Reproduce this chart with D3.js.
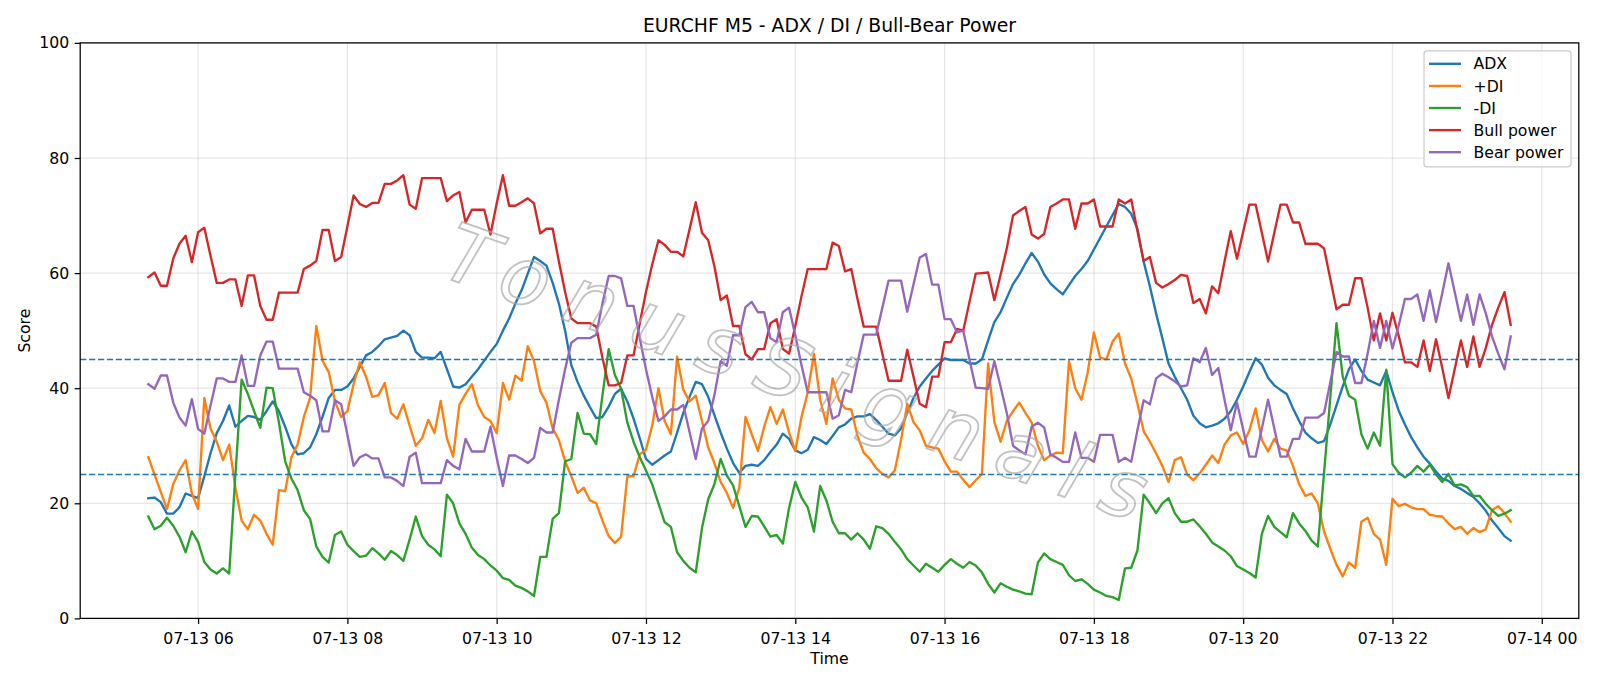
<!DOCTYPE html>
<html><head><meta charset="utf-8">
<script src="https://cdn.jsdelivr.net/npm/d3@7"></script>
<style>body{margin:0;background:#fff;} svg text{font-family:"DejaVu Sans",sans-serif;}</style>
</head><body><svg id="chart" width="1600" height="686"></svg>
<script>
// ---------- data ----------
const startTime = "2025-07-13T05:20:00Z";
const stepMinutes = 5;
const seriesNames = ["ADX", "+DI", "-DI", "Bull power", "Bear power"];
const seriesColors = ["#1f77b4", "#ff7f0e", "#2ca02c", "#d62728", "#9467bd"];
const yTicks = [0, 20, 40, 60, 80, 100];
const refLevels = [45, 25];
const titleText = "EURCHF M5 - ADX / DI / Bull-Bear Power";
const xLabel = "Time";
const yLabel = "Score";
const watermarkText = "TonusSignals";

const adx = [20.9,21.0,20.2,18.2,18.2,19.3,21.7,21.3,20.9,24.7,28.7,32.2,34.3,37.0,33.3,34.3,35.2,35.0,34.5,36.0,37.7,36.0,33.3,30.3,28.5,28.7,29.7,
32.0,35.0,38.3,39.7,39.7,40.3,41.7,43.7,45.7,46.3,47.3,48.5,48.8,49.1,50.0,49.2,46.3,45.3,45.3,45.2,46.3,43.3,40.3,40.1,40.7,42.0,43.3,44.8,46.3,
47.7,50.0,52.1,54.7,57.0,59.9,62.8,62.1,61.3,58.3,54.7,50.0,44.0,41.1,38.7,36.7,34.8,35.0,36.8,39.0,39.9,37.7,34.7,31.3,27.7,26.7,27.5,28.3,
29.0,32.3,35.7,38.5,41.1,40.7,38.5,35.3,32.3,29.5,27.0,25.3,26.5,26.7,26.5,27.5,28.9,30.2,32.1,31.2,29.2,28.7,29.3,31.5,31.0,30.3,31.7,33.2,
33.7,34.7,35.1,35.1,35.5,34.5,33.3,32.1,31.8,33.0,35.7,38.3,40.3,41.7,43.0,44.1,45.2,44.9,44.9,44.9,44.3,44.3,45.0,48.3,51.5,53.2,55.7,58.1,
59.7,61.7,63.5,62.0,59.8,58.2,57.2,56.3,57.9,59.5,60.7,62.1,64.1,66.1,68.1,70.1,72.0,71.5,70.3,67.7,62.0,57.7,53.0,48.7,44.3,42.0,40.0,38.0,
35.2,33.9,33.2,33.5,33.9,34.7,36.0,38.0,40.3,42.8,45.2,44.1,41.8,40.5,39.7,39.0,36.5,34.3,32.3,31.3,30.5,30.8,33.7,37.0,40.3,43.3,45.0,43.0,
41.5,41.0,40.5,43.0,39.3,36.1,33.7,31.5,29.7,28.1,26.9,25.5,24.3,23.9,23.0,22.5,21.8,21.1,20.0,18.7,17.0,15.7,14.3,13.5];

const plusDI = [28.0,25.0,22.0,19.0,23.3,25.7,27.5,21.7,19.0,38.3,33.0,30.7,27.5,30.2,22.7,17.0,15.5,18.0,17.0,14.7,12.8,22.3,22.1,28.0,30.2,35.0,38.3,
50.8,44.8,42.8,37.7,35.0,36.0,40.7,44.5,42.0,38.5,38.8,40.9,35.7,34.7,37.2,33.5,30.0,31.3,34.5,32.2,37.8,31.3,28.1,37.1,39.0,40.7,37.0,35.0,34.3,
32.2,40.9,38.0,42.2,41.3,47.3,44.7,39.5,37.5,33.0,31.0,27.3,24.7,21.8,22.7,20.5,20.0,17.0,14.3,13.1,14.2,24.7,24.7,28.5,29.3,33.5,40.0,34.3,
32.0,45.5,39.7,37.7,38.7,34.3,29.7,27.0,23.7,21.8,19.2,22.7,35.0,32.0,29.1,33.3,36.7,33.8,36.3,32.3,29.1,35.0,39.3,46.0,38.0,33.8,41.7,38.0,
36.5,36.3,31.7,28.8,27.7,26.1,25.1,24.5,25.7,31.0,37.3,34.1,32.7,30.0,29.7,29.5,27.3,25.5,25.5,24.1,22.8,24.0,25.1,44.3,34.1,30.7,34.3,36.0,
37.5,35.7,34.0,30.0,27.5,28.3,28.8,28.7,44.7,40.0,38.0,42.7,49.7,45.3,45.0,48.1,49.5,44.3,41.7,37.3,32.5,30.7,28.7,26.5,23.7,27.5,28.0,25.0,
24.0,25.2,26.7,28.3,27.0,30.2,31.8,32.3,30.3,32.7,36.5,31.0,29.0,31.2,29.5,29.2,26.5,23.3,21.3,21.7,20.0,15.1,12.1,9.3,7.3,9.7,8.8,16.8,
17.5,14.7,13.7,9.3,20.8,19.5,19.9,19.3,19.0,19.0,18.0,17.8,17.7,16.5,15.5,15.9,14.7,15.7,15.0,15.5,18.8,19.5,18.3,16.8];

const minusDI = [17.7,15.5,16.1,17.5,16.1,14.2,11.5,15.1,13.3,9.8,8.5,7.8,8.7,7.8,25.0,41.5,39.0,36.0,33.1,40.1,40.0,34.0,27.3,24.3,22.3,18.8,17.3,
12.5,10.7,9.7,14.5,15.1,12.8,11.7,10.7,10.9,12.2,11.3,10.2,11.7,11.0,10.0,13.7,17.7,14.3,12.8,12.0,10.8,21.5,20.0,16.5,14.7,12.3,11.0,10.3,9.2,
8.3,7.0,6.7,5.7,5.3,4.7,3.9,10.7,10.7,17.3,18.3,27.3,27.7,35.7,32.1,32.0,30.3,38.7,46.8,42.3,39.9,34.0,30.7,28.0,25.7,23.3,20.0,16.7,
15.9,11.5,10.0,8.8,8.0,15.7,20.7,23.3,27.7,24.8,23.1,19.5,15.9,17.8,17.7,16.0,14.2,14.5,13.0,19.2,23.7,21.0,19.3,15.1,23.0,20.5,16.8,14.8,
14.8,13.7,14.8,13.7,12.1,16.0,15.7,14.7,13.3,12.0,10.3,9.2,8.1,9.5,8.8,8.1,9.3,10.3,9.5,8.8,9.8,9.2,8.0,6.0,4.5,6.1,5.5,5.0,
4.7,4.3,4.2,9.7,11.3,10.3,9.8,9.3,7.5,6.5,6.8,6.0,5.0,4.5,3.9,3.7,3.2,8.7,8.8,11.8,21.5,20.0,18.3,20.0,20.9,18.3,16.8,16.8,
17.2,16.0,14.7,13.2,12.5,11.8,10.8,9.1,8.5,7.9,7.1,14.7,17.8,15.9,15.0,14.1,18.3,16.5,15.2,13.5,12.5,25.3,38.3,51.3,42.0,38.7,38.0,32.0,
29.5,32.3,30.0,43.2,26.8,25.3,24.5,25.3,26.5,25.5,26.7,25.0,23.7,25.1,23.1,23.3,22.8,21.3,21.3,19.9,18.8,17.8,18.2,18.8];

const bullPower = [59.3,60.1,57.8,57.8,62.5,65.1,66.5,61.9,67.1,67.9,63.0,58.3,58.3,58.9,58.9,54.3,59.6,59.6,54.3,51.9,51.9,56.6,56.6,56.6,56.6,60.7,61.3,
62.1,67.5,67.5,62.1,62.8,68.1,73.5,72.0,71.5,72.2,72.2,75.5,75.5,76.1,77.0,71.9,71.2,76.5,76.5,76.5,76.5,72.5,73.5,74.1,68.8,71.0,71.0,71.0,66.7,
72.1,77.0,71.7,71.7,72.3,73.0,72.1,66.9,67.7,67.7,62.0,56.7,52.1,51.3,51.3,51.3,50.7,45.3,40.5,40.5,40.9,45.7,45.7,51.3,56.7,61.5,65.7,64.9,
63.7,63.7,62.9,67.6,72.3,67.0,65.7,61.2,55.3,56.1,50.8,50.8,45.9,45.0,46.8,46.8,51.3,52.0,46.8,46.0,50.8,56.0,60.7,60.7,60.7,60.7,65.3,64.7,
60.3,60.7,55.5,50.7,50.7,50.7,46.0,41.3,41.3,41.3,46.7,42.0,37.3,36.7,42.0,42.0,48.0,48.0,50.3,50.0,55.0,59.9,60.0,60.1,55.3,59.7,64.3,70.0,
70.8,71.5,66.7,66.0,66.8,71.5,72.1,72.8,72.8,67.7,72.1,72.1,72.8,68.1,68.1,68.1,72.8,72.1,72.8,67.3,62.1,62.8,58.3,57.5,58.1,58.8,59.7,59.5,
54.8,55.5,53.0,57.7,56.5,62.0,67.3,62.5,67.2,71.9,71.9,67.0,62.0,67.0,71.9,71.9,68.8,68.8,65.1,65.1,65.1,64.3,59.0,53.7,54.5,54.5,59.1,59.1,
54.0,48.3,53.0,48.3,53.1,49.1,44.5,44.5,43.7,48.3,43.0,48.5,43.5,38.3,43.3,48.3,43.7,49.0,43.7,47.0,51.0,54.0,56.7,51.0];

const bearPower = [40.7,39.9,42.2,42.2,37.5,34.9,33.5,38.1,32.9,32.1,37.0,41.7,41.7,41.1,41.1,45.7,40.4,40.4,45.7,48.1,48.1,43.4,43.4,43.4,43.4,39.3,38.7,
37.9,32.5,32.5,37.9,37.2,31.9,26.5,28.0,28.5,27.8,27.8,24.5,24.5,23.9,23.0,28.1,28.8,23.5,23.5,23.5,23.5,27.5,26.5,25.9,31.2,29.0,29.0,29.0,33.3,
27.9,23.0,28.3,28.3,27.7,27.0,27.9,33.1,32.3,32.3,38.0,43.3,47.9,48.7,48.7,48.7,49.3,54.7,59.5,59.5,59.1,54.3,54.3,48.7,43.3,38.5,34.3,35.1,
36.3,36.3,37.1,32.4,27.7,33.0,34.3,38.8,44.7,43.9,49.2,49.2,54.1,55.0,53.2,53.2,48.7,48.0,53.2,54.0,49.2,44.0,39.3,39.3,39.3,39.3,34.7,35.3,
39.7,39.3,44.5,49.3,49.3,49.3,54.0,58.7,58.7,58.7,53.3,58.0,62.7,63.3,58.0,58.0,52.0,52.0,49.7,50.0,45.0,40.1,40.0,39.9,44.7,40.3,35.7,30.0,
29.2,28.5,33.3,34.0,33.2,28.5,27.9,27.2,27.2,32.3,27.9,27.9,27.2,31.9,31.9,31.9,27.2,27.9,27.2,32.7,37.9,37.2,41.7,42.5,41.9,41.2,40.3,40.5,
45.2,44.5,47.0,42.3,43.5,38.0,32.7,37.5,32.8,28.1,28.1,33.0,38.0,33.0,28.1,28.1,31.2,31.2,34.9,34.9,34.9,35.7,41.0,46.3,45.5,45.5,40.9,40.9,
46.0,51.7,47.0,51.7,46.9,50.9,55.5,55.5,56.3,51.7,57.0,51.5,56.5,61.7,56.7,51.7,56.3,51.0,56.3,53.0,49.0,46.0,43.3,49.0];

// ---------- layout ----------
const W = 1600, H = 686;
const axL = 80.2, axR = 1578.8, axT = 42.9, axB = 618.4;
const fs = 15.7;

const seriesValues = [adx, plusDI, minusDI, bullPower, bearPower];
const t0 = new Date(startTime).getTime();
const times = adx.map((_, i) => new Date(t0 + i * stepMinutes * 60000));
const tMin = times[0].getTime(), tMax = times[times.length - 1].getTime();
const pad = 0.05 * (tMax - tMin);

const x = d3.scaleUtc().domain([new Date(tMin - pad), new Date(tMax + pad)]).range([axL, axR]);
const y = d3.scaleLinear().domain([0, 100]).range([axB, axT]);

const svg = d3.select("#chart");
svg.append("rect").attr("width", W).attr("height", H).attr("fill", "#fff");

const xTickVals = x.ticks(d3.utcHour.every(2));

// grid
const grid = svg.append("g");
grid.selectAll("line.gx").data(xTickVals).join("line")
  .attr("x1", d => x(d)).attr("x2", d => x(d)).attr("y1", axT).attr("y2", axB)
  .attr("stroke", "#b0b0b0").attr("stroke-opacity", 0.3).attr("stroke-width", 1.25);
grid.selectAll("line.gy").data(yTicks).join("line")
  .attr("x1", axL).attr("x2", axR).attr("y1", d => y(d)).attr("y2", d => y(d))
  .attr("stroke", "#b0b0b0").attr("stroke-opacity", 0.3).attr("stroke-width", 1.25);

// series
const line = d3.line().x((d, i) => x(times[i])).y(d => y(d));
const plot = svg.append("g");
seriesValues.forEach((vals, k) => {
  plot.append("path").datum(vals).attr("d", line)
    .attr("fill", "none").attr("stroke", seriesColors[k]).attr("stroke-width", 2.35)
    .attr("stroke-linejoin", "round").attr("stroke-linecap", "square");
});

// reference levels
svg.append("g").selectAll("line").data(refLevels).join("line")
  .attr("x1", axL).attr("x2", axR).attr("y1", d => y(d)).attr("y2", d => y(d))
  .attr("stroke", "#1f77b4").attr("stroke-width", 1.6).attr("stroke-dasharray", "6.2,2.7");

// watermark
const wmCx = 805, wmCy = 376;
svg.append("text").text(watermarkText)
  .attr("transform", `translate(${wmCx},${wmCy}) rotate(19.5)`)
  .attr("text-anchor", "middle").attr("dominant-baseline", "central")
  .attr("font-size", 80).attr("font-style", "italic").attr("font-weight", 200)
  .attr("letter-spacing", 20)
  .attr("fill", "none").attr("stroke", "#a8a8a8").attr("stroke-width", 1.8)
  .attr("stroke-opacity", 0.7);

// axes
const xAxis = d3.axisBottom(x).tickValues(xTickVals).tickFormat(d3.utcFormat("%m-%d %H"))
  .tickSize(5.5).tickPadding(5.5).tickSizeOuter(0);
const gx = svg.append("g").attr("transform", `translate(0,${axB})`).call(xAxis);
gx.select(".domain").remove();
gx.selectAll("line").attr("stroke", "#000").attr("stroke-width", 1.25);
gx.selectAll("text").attr("font-size", fs).attr("fill", "#000").attr("dy", "0.9em")
  .attr("font-family", "DejaVu Sans");

const yAxis = d3.axisLeft(y).tickValues(yTicks).tickSize(5.5).tickPadding(5.5).tickSizeOuter(0);
const gy = svg.append("g").attr("transform", `translate(${axL},0)`).call(yAxis);
gy.select(".domain").remove();
gy.selectAll("line").attr("stroke", "#000").attr("stroke-width", 1.25);
gy.selectAll("text").attr("font-size", fs).attr("fill", "#000").attr("font-family", "DejaVu Sans");

// spines
svg.append("rect").attr("x", axL).attr("y", axT).attr("width", axR - axL).attr("height", axB - axT)
  .attr("fill", "none").attr("stroke", "#000").attr("stroke-width", 1.25);

// labels
svg.append("text").text(titleText).attr("x", (axL + axR) / 2).attr("y", 31.5)
  .attr("text-anchor", "middle").attr("font-size", 18.8).attr("fill", "#000");
svg.append("text").text(xLabel).attr("x", (axL + axR) / 2).attr("y", 664)
  .attr("text-anchor", "middle").attr("font-size", fs).attr("fill", "#000");
svg.append("text").text(yLabel)
  .attr("transform", `translate(30.3,${(axT + axB) / 2}) rotate(-90)`)
  .attr("text-anchor", "middle").attr("font-size", fs).attr("fill", "#000");

// legend
const lgX = 1424, lgY = 50.8, lgW = 147, lgH = 116;
const lg = svg.append("g");
lg.append("rect").attr("x", lgX).attr("y", lgY).attr("width", lgW).attr("height", lgH)
  .attr("rx", 3).attr("fill", "#fff").attr("fill-opacity", 0.8)
  .attr("stroke", "#cccccc").attr("stroke-width", 1.25);
seriesNames.forEach((name, k) => {
  const cy = lgY + 13 + 22.1 * k;
  lg.append("line").attr("x1", lgX + 5).attr("x2", lgX + 37).attr("y1", cy).attr("y2", cy)
    .attr("stroke", seriesColors[k]).attr("stroke-width", 2.35);
  lg.append("text").text(name).attr("x", lgX + 49.5).attr("y", cy).attr("dy", "0.36em")
    .attr("font-size", fs).attr("fill", "#000");
});
</script>
</body></html>
